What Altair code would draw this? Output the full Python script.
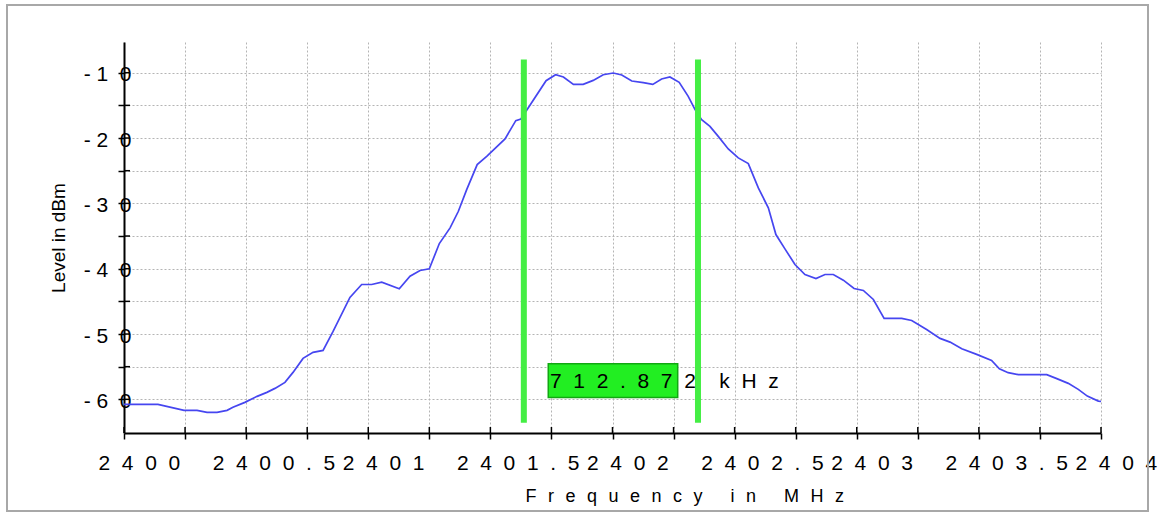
import altair as alt
import pandas as pd

NB = "\u00a0"
HAIR = "\u200a"

# ---- spectrum trace (MHz, dBm) ----
freq_mhz = [2400.000, 2400.139, 2400.246, 2400.299, 2400.340, 2400.381, 2400.422, 2400.446,
            2400.495, 2400.545, 2400.585, 2400.618, 2400.659, 2400.692, 2400.733, 2400.774,
            2400.815, 2400.856, 2400.925, 2400.973, 2401.014, 2401.055, 2401.127, 2401.171,
            2401.212, 2401.250, 2401.291, 2401.335, 2401.369, 2401.403, 2401.446, 2401.485,
            2401.560, 2401.604, 2401.625, 2401.728, 2401.767, 2401.799, 2401.840, 2401.880,
            2401.921, 2401.962, 2402.003, 2402.038, 2402.079, 2402.126, 2402.165, 2402.201,
            2402.235, 2402.273, 2402.310, 2402.338, 2402.365, 2402.399, 2402.433, 2402.474,
            2402.515, 2402.556, 2402.597, 2402.638, 2402.669, 2402.706, 2402.747, 2402.788,
            2402.833, 2402.870, 2402.904, 2402.945, 2402.989, 2403.027, 2403.068, 2403.112,
            2403.184, 2403.225, 2403.286, 2403.341, 2403.382, 2403.430, 2403.491, 2403.552,
            2403.584, 2403.620, 2403.661, 2403.778, 2403.819, 2403.866, 2403.907, 2403.944,
            2403.989, 2404.000]
level_dbm = [-60.76, -60.76, -61.68, -61.68, -61.99, -61.99, -61.68, -61.22,
             -60.46, -59.54, -58.93, -58.32, -57.40, -55.87, -53.73, -52.81,
             -52.51, -49.60, -44.40, -42.42, -42.42, -42.06, -43.07, -41.15,
             -40.28, -40.02, -36.15, -33.75, -31.21, -27.89, -24.07, -22.80,
             -20.14, -17.34, -17.08, -11.22, -10.31, -10.66, -11.79, -11.79,
             -11.18, -10.31, -10.05, -10.35, -11.27, -11.53, -11.79, -10.96,
             -10.66, -11.48, -13.62, -15.66, -17.19, -18.21, -19.74, -21.67,
             -23.04, -23.91, -27.63, -30.69, -34.77, -36.96, -39.36, -40.89,
             -41.50, -40.89, -40.89, -41.76, -43.03, -43.33, -44.71, -47.61,
             -47.61, -47.92, -49.30, -50.67, -51.24, -52.25, -53.12, -54.04,
             -55.31, -55.92, -56.22, -56.22, -56.83, -57.55, -58.47, -59.50,
             -60.26, -60.31]

# ---- bandwidth markers and readout ----
marker_freqs = [2401.637, 2402.350]
marker_levels = [-7.96, -63.58]
readout_text = "712.872"
readout_unit = "kHz"
readout_box_freq = [2401.737, 2402.267]
readout_box_level = [-54.55, -59.71]
readout_pos = [2401.744, -57.4]

# ---- axes ----
x_tick_values = [2400 + 0.25 * i for i in range(17)]
x_label_values = [2400, 2400.5, 2401, 2401.5, 2402, 2402.5, 2403, 2403.5, 2404]
x_label_text = ["2400", "2400.5", "2401", "2401.5", "2402", "2402.5", "2403", "2403.5", "2404"]
y_tick_values = [-60, -55, -50, -45, -40, -35, -30, -25, -20, -15, -10]
y_label_values = [-60, -50, -40, -30, -20, -10]
y_label_text = ["-60", "-50", "-40", "-30", "-20", "-10"]
x_title = "Frequency in MHz"
y_title = "Level in dBm"


def spaced(s, sep=NB * 2):
    out = ""
    chars = list(s.replace(" ", NB))
    for i, c in enumerate(chars):
        out += c
        if i < len(chars) - 1:
            out += NB if c == "-" else sep
    return out


def label_expr(values, texts):
    expr = "''"
    for v, t in reversed(list(zip(values, texts))):
        expr = f"datum.value == {v} ? '{spaced(t)}' : " + expr
    return expr


W, H = 977, 391
FONT = "Liberation Sans"
xs = alt.Scale(domain=[2400, 2404], nice=False, zero=False)
ys = alt.Scale(domain=[-65.15, -5.3], nice=False, zero=False)

x_axis = alt.Axis(
    values=x_tick_values, labelExpr=label_expr(x_label_values, x_label_text),
    labelFont=FONT, labelFontSize=21, labelColor="black", labelAlign="left",
    labelBaseline="top", labelPadding=13, labelOverlap=False, labelFlush=False, labelBound=False,
    labelOffset={"condition": {"test": "datum.value % 1 != 0", "value": -34}, "value": -26},
    tickSize=6, tickColor="black", tickWidth=1.5, domainColor="black", domainWidth=2,
    grid=True, gridColor="#b4b4b4", gridDash=[2, 2], gridWidth=1,
    title=spaced(x_title, NB * 2 + HAIR), titleFont=FONT, titleFontSize=18,
    titleFontWeight="normal", titleColor="black", titleAlign="left",
    titleBaseline="alphabetic", titleX=401, titleY=68,
)
y_axis = alt.Axis(
    values=y_tick_values, labelExpr=label_expr(y_label_values, y_label_text),
    labelFont=FONT, labelFontSize=21, labelColor="black", labelAlign="right",
    labelBaseline="middle", labelPadding=-13, labelOffset=2, labelOverlap=False,
    labelFlush=False, labelBound=False,
    tickSize=6, tickColor="black", tickWidth=1.5, domainColor="black", domainWidth=2,
    grid=True, gridColor="#b4b4b4", gridDash=[2, 2], gridWidth=1,
    title=y_title, titleFont=FONT, titleFontSize=19, titleFontWeight="normal",
    titleColor="black", titleAlign="center", titleBaseline="middle", titleX=-66, titleY=H / 2,
    titleAngle=270,
)

X = lambda f: alt.X(f, scale=xs, axis=x_axis)
Y = lambda f: alt.Y(f, scale=ys, axis=y_axis)

trace_df = pd.DataFrame({"freq": freq_mhz, "level": level_dbm})
trace = alt.Chart(trace_df).mark_line(color="#4646f0", strokeWidth=1.7).encode(
    x=X("freq:Q"), y=Y("level:Q"),
)

xt_df = pd.DataFrame({"freq": x_tick_values})
x_inner_ticks = alt.Chart(xt_df).mark_rule(color="black", strokeWidth=1.5).encode(
    x=X("freq:Q"), y=alt.value(H - 6), y2=alt.value(H)
)
yt_df = pd.DataFrame({"level": y_tick_values})
y_inner_ticks = alt.Chart(yt_df).mark_rule(color="black", strokeWidth=1.5).encode(
    y=Y("level:Q"), x=alt.value(0), x2=alt.value(6)
)

mk_df = pd.DataFrame({"freq": marker_freqs, "level": [marker_levels[0]] * 2,
                      "level2": [marker_levels[1]] * 2})
markers = alt.Chart(mk_df).mark_rule(color="#44ee44", strokeWidth=6).encode(
    x=X("freq:Q"), y=Y("level:Q"), y2="level2:Q",
)

box_df = pd.DataFrame({"freq": [readout_box_freq[0]], "freq2": [readout_box_freq[1]],
                       "level": [readout_box_level[0]], "level2": [readout_box_level[1]]})
box = alt.Chart(box_df).mark_rect(fill="#22ee22", stroke="#12a812", strokeWidth=1.5).encode(
    x=X("freq:Q"), x2="freq2:Q", y=Y("level:Q"), y2="level2:Q",
)

txt_df = pd.DataFrame({"freq": [readout_pos[0]], "level": [readout_pos[1]],
                       "t": [spaced(readout_text) + NB * 4 + spaced(readout_unit)]})
readout = alt.Chart(txt_df).mark_text(font=FONT, fontSize=21, color="black", align="left",
                                      baseline="middle").encode(
    x=X("freq:Q"), y=Y("level:Q"), text="t:N",
)

frame = alt.Chart(pd.DataFrame({"a": [0]})).mark_rect(
    fillOpacity=0, stroke="#a8a8a8", strokeWidth=2
).encode(x=alt.value(-117), x2=alt.value(1024), y=alt.value(-37), y2=alt.value(469))

chart = alt.layer(
    trace, x_inner_ticks, y_inner_ticks, markers, box, readout, frame
).properties(
    width=W, height=H,
    autosize=alt.AutoSizeParams(type="none"),
    padding={"left": 124, "top": 42, "right": 60, "bottom": 81},
    background="white",
).configure_view(strokeWidth=0)

chart.save("out.html", embed_options={"renderer": "svg", "actions": False})
